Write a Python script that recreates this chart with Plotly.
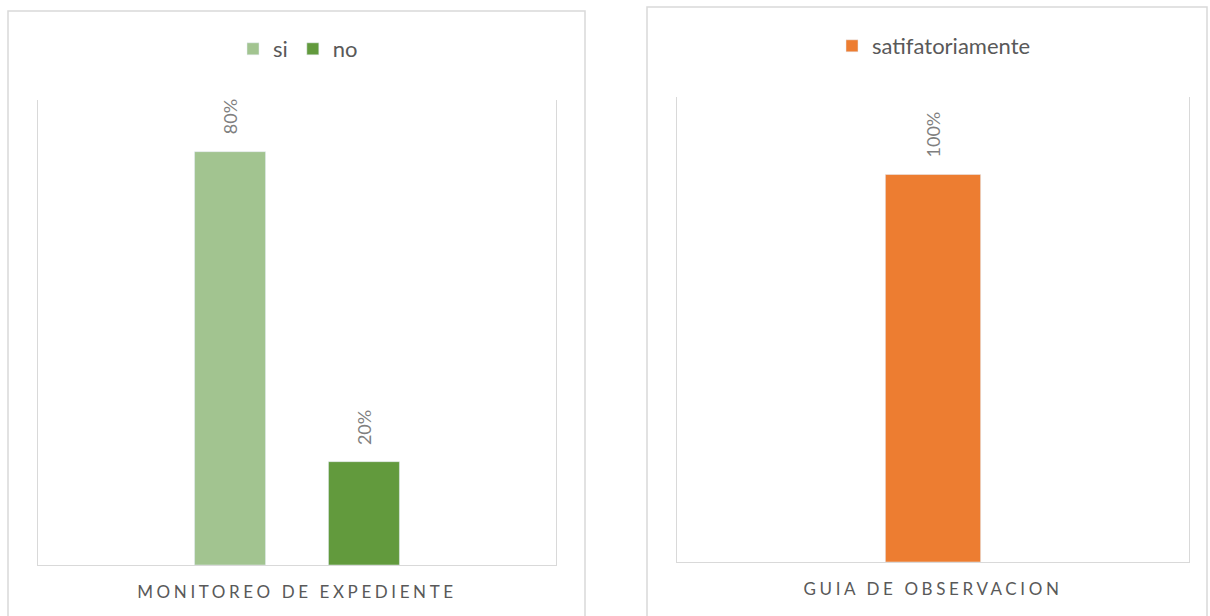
import plotly.graph_objects as go

# Data
left_category = ["MONITOREO DE EXPEDIENTE"]
si_values = [0.80]
no_values = [0.20]
right_category = ["GUIA DE OBSERVACION"]
satisfactorio_values = [1.00]

W, H = 1210, 616
FONT = "Lato"
TEXT_GRAY = "#595959"
LABEL_GRAY = "#7f7f7f"
LINE_GRAY = "#d9d9d9"

BARGAP = 0.483
BARGROUPGAP = 0.47


def px_x(v):
    return v / W


def px_y(v):
    return (H - v) / H


fig = go.Figure()
fig.add_bar(x=left_category, y=si_values, name="si", marker_color="#a2c490",
            xaxis="x", yaxis="y", legend="legend", hoverinfo="skip")
fig.add_bar(x=left_category, y=no_values, name="no", marker_color="#629a3d",
            xaxis="x", yaxis="y", legend="legend", hoverinfo="skip")
fig.add_bar(x=right_category, y=satisfactorio_values, name="satifatoriamente",
            marker_color="#ed7d31", width=0.186,
            xaxis="x2", yaxis="y2", legend="legend2", hoverinfo="skip")

# Rotated value labels above each bar
slot = (1 - BARGAP) / 2
label_font = dict(family=FONT, size=18, color=LABEL_GRAY)
annotations = []
for vals, off in ((si_values, -slot / 2), (no_values, slot / 2)):
    for i, v in enumerate(vals):
        annotations.append(dict(x=i + off, y=v, xref="x", yref="y", text=f"{v:.0%}",
                                textangle=-90, showarrow=False, yanchor="bottom",
                                yshift=15, font=label_font))
for i, v in enumerate(satisfactorio_values):
    annotations.append(dict(x=i, y=v, xref="x2", yref="y2", text=f"{v:.0%}",
                            textangle=-90, showarrow=False, yanchor="bottom",
                            yshift=15, font=label_font))

axis_common = dict(showgrid=False, zeroline=False, showline=True,
                   linecolor=LINE_GRAY, linewidth=1.3)

fig.update_layout(
    width=W, height=H,
    margin=dict(l=0, r=0, t=0, b=0),
    paper_bgcolor="white", plot_bgcolor="white",
    barmode="group", bargap=BARGAP, bargroupgap=BARGROUPGAP,
    font=dict(family=FONT, color=TEXT_GRAY),
    xaxis=dict(domain=[px_x(38), px_x(556)], ticks="", ticklabelstandoff=11,
               tickfont=dict(size=17, color=TEXT_GRAY), **axis_common),
    yaxis=dict(domain=[px_y(565), px_y(100)], range=[0, 0.9], showticklabels=False,
               ticks="", mirror=True, **axis_common),
    xaxis2=dict(domain=[px_x(677), px_x(1189)], anchor="y2", ticks="", ticklabelstandoff=11,
                tickfont=dict(size=17, color=TEXT_GRAY), **axis_common),
    yaxis2=dict(domain=[px_y(562), px_y(97)], range=[0, 1.2], anchor="x2",
                showticklabels=False, ticks="", mirror=True, **axis_common),
    legend=dict(orientation="h", x=px_x(298), xanchor="center", y=px_y(49), yanchor="middle",
                font=dict(size=22, color=TEXT_GRAY), itemwidth=30, bgcolor="rgba(0,0,0,0)"),
    legend2=dict(orientation="h", x=px_x(934), xanchor="center", y=px_y(46), yanchor="middle",
                 font=dict(size=22, color=TEXT_GRAY), itemwidth=30, bgcolor="rgba(0,0,0,0)"),
    annotations=annotations,
    shapes=[
        dict(type="rect", xref="paper", yref="paper", x0=px_x(8), x1=px_x(585),
             y0=px_y(630), y1=px_y(11), line=dict(color=LINE_GRAY, width=1.5), layer="below"),
        dict(type="rect", xref="paper", yref="paper", x0=px_x(647), x1=px_x(1207),
             y0=px_y(630), y1=px_y(7), line=dict(color=LINE_GRAY, width=1.5), layer="below"),
    ],
)

spacing_js = """
document.querySelectorAll('.xtick text, .x2tick text').forEach(function(t){
  t.style.letterSpacing = '3.6px';
});
"""

fig.write_html("out.html", post_script=spacing_js)
